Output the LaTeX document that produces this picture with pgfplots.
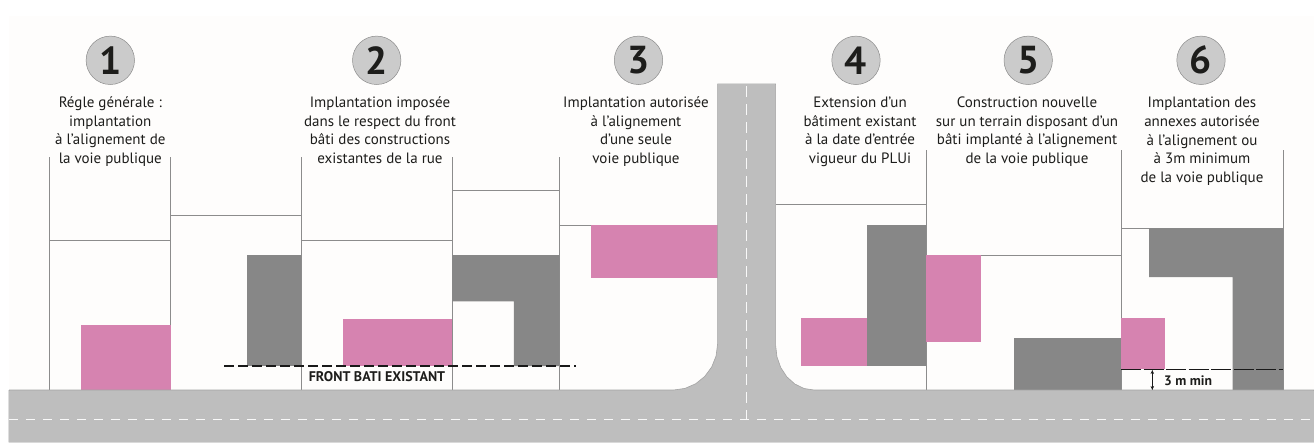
\documentclass[border=0pt]{standalone}
\usepackage{pgfplots}
\pgfplotsset{compat=1.18}
\usepackage{fontspec}
\setmainfont{PT Sans}
\usetikzlibrary{arrows.meta}
\definecolor{pinkc}{HTML}{D683B0}
\definecolor{grayc}{HTML}{878787}
\definecolor{roadc}{HTML}{BEBEBE}
\definecolor{linec}{HTML}{8C8C8C}
\definecolor{bandc}{HTML}{FEFDFC}
\definecolor{circc}{HTML}{CBCBCB}
\definecolor{txt}{HTML}{1D1D1B}
\tikzset{
  parcelline/.style={draw=linec,line width=0.7pt},
  numtxt/.style={font=\fontsize{39}{39}\selectfont\bfseries,text=txt},
  captxt/.style={anchor=north,align=center,inner sep=0pt,text=txt,font=\fontsize{15}{18.7}\selectfont},
}
\begin{document}
\begin{tikzpicture}
\begin{axis}[
  width=1314pt,height=442pt,scale only axis,
  xmin=0,xmax=1314,ymin=0,ymax=442,y dir=reverse,
  hide axis,clip=true,
  after end axis/.code={
    \node[numtxt] at (axis cs:110.3,60.3) {1};
    \node[numtxt] at (axis cs:376.7,60.3) {2};
    \node[numtxt] at (axis cs:638.5,60.3) {3};
    \node[numtxt] at (axis cs:856,60.3) {4};
    \node[numtxt] at (axis cs:1028.2,60.3) {5};
    \node[numtxt] at (axis cs:1201,60.3) {6};
  },
]
% page
\addplot[fill=white,draw=none] coordinates {(0,0)(1314,0)(1314,442)(0,442)};
\addplot[fill=bandc,draw=none] coordinates {(9,16)(1314,16)(1314,392)(9,392)};
% vertical parcel lines
\addplot[parcelline] coordinates {(49.2,157)(49.2,390)};
\addplot[parcelline] coordinates {(170.5,157)(170.5,390)};
\addplot[parcelline] coordinates {(301.4,157)(301.4,390)};
\addplot[parcelline] coordinates {(452,157)(452,390)};
\addplot[parcelline] coordinates {(559.3,157)(559.3,390)};
\addplot[parcelline] coordinates {(926.3,150)(926.3,390)};
\addplot[parcelline] coordinates {(1121.2,150)(1121.2,390)};
\addplot[parcelline] coordinates {(1283.2,150)(1283.2,390)};
% horizontal lines
\addplot[parcelline] coordinates {(49.2,240)(170.5,240)};
\addplot[parcelline] coordinates {(170.5,215)(301.4,215)};
\addplot[parcelline] coordinates {(301.4,240)(452,240)};
\addplot[parcelline] coordinates {(452,190)(559.3,190)};
\addplot[parcelline] coordinates {(559.3,225)(717.6,225)};
\addplot[parcelline] coordinates {(775.6,204)(926.3,204)};
\addplot[parcelline] coordinates {(926.3,255.3)(1121.2,255.3)};
\addplot[parcelline] coordinates {(1121.2,228.3)(1283.2,228.3)};
% pink
\addplot[fill=pinkc,draw=none] coordinates {(80.8,325.3)(170.5,325.3)(170.5,390)(80.8,390)};
\addplot[fill=pinkc,draw=none] coordinates {(343.4,319.3)(452,319.3)(452,366)(343.4,366)};
\addplot[fill=pinkc,draw=none] coordinates {(591.3,225)(717.6,225)(717.6,278.3)(591.3,278.3)};
\addplot[fill=pinkc,draw=none] coordinates {(800.9,317.7)(866.5,317.7)(866.5,366)(800.9,366)};
\addplot[fill=pinkc,draw=none] coordinates {(926.3,255.3)(981.4,255.3)(981.4,341.7)(926.3,341.7)};
\addplot[fill=pinkc,draw=none] coordinates {(1121.2,317.7)(1164.5,317.7)(1164.5,369.3)(1121.2,369.3)};
% gray
\addplot[fill=grayc,draw=none] coordinates {(246.6,255)(301.4,255)(301.4,366)(246.6,366)};
\addplot[fill=grayc,draw=none] coordinates {(452,255)(559.3,255)(559.3,366)(513.9,366)(513.9,301.3)(452,301.3)};
\addplot[fill=grayc,draw=none] coordinates {(866.5,225)(926.3,225)(926.3,366)(866.5,366)};
\addplot[fill=grayc,draw=none] coordinates {(1014.3,338.3)(1121.2,338.3)(1121.2,390)(1014.3,390)};
\addplot[fill=grayc,draw=none] coordinates {(1149,228.3)(1283.2,228.3)(1283.2,390)(1232.7,390)(1232.7,277)(1149,277)};
% road
\addplot[fill=roadc,draw=linec!80,line width=0.6pt] coordinates {
 (9,390)(673.6,390)(685,388.4)(695.6,383.8)(704.7,376.5)(711.7,367)(716.1,355.9)(717.6,344)
 (717.6,84)(775.6,84)
 (775.6,345)(776.9,356.6)(780.7,367.5)(786.8,376.8)(794.8,384)(804.1,388.5)(814,390)
 (1314,390)(1314,442)(9,442)(9,390)};
\addplot[fill=roadc,draw=none] coordinates {(718,84)(775.2,84)(775.2,90)(718,90)};
\addplot[fill=roadc,draw=none] coordinates {(9,391)(1314,391)(1314,442)(9,442)};
\addplot[white!90!roadc,line width=0.7pt,dash pattern=on 9pt off 8pt] coordinates {(9,419.3)(1314,419.3)};
\addplot[white!90!roadc,line width=0.7pt,dash pattern=on 11pt off 7pt] coordinates {(746.6,86)(746.6,419.3)};
% front bati
\addplot[black!90,line width=1.8pt,dash pattern=on 10pt off 4pt] coordinates {(224.3,366)(575.8,366)};
\node[text=txt,font=\fontsize{14}{14}\selectfont\bfseries] at (axis cs:377,376.5) {FRONT BATI EXISTANT};
% 3 m min
\addplot[black!90,line width=1.1pt,dash pattern=on 20pt off 2.5pt] coordinates {(1121.2,369.3)(1283.2,369.3)};
\addplot[black!90,line width=0.8pt,{Stealth[length=4pt,width=3.5pt]}-{Stealth[length=4pt,width=3.5pt]}] coordinates {(1152.3,370)(1152.3,390)};
\node[text=txt,font=\fontsize{13.7}{14}\selectfont\bfseries] at (axis cs:1188,380.5) {3 m min};
% number discs
\addplot[only marks,mark=*,mark size=24.2pt,mark options={fill=circc,draw=black!45,line width=0.5pt}] coordinates {(110.3,60.3)(376.7,60.3)(638.5,60.3)(856,60.3)(1028.2,60.3)(1201,60.3)};
% captions
\node[captxt] at (axis cs:110.3,96.5) {Régle générale :\\implantation\\à l’alignement de\\la voie publique};
\node[captxt] at (axis cs:380,96.5) {Implantation imposée\\dans le respect du front\\bâti des constructions\\existantes de la rue};
\node[captxt] at (axis cs:636,96.5) {Implantation autorisée\\à l’alignement\\d’une seule\\voie publique};
\node[captxt] at (axis cs:860,96.5) {Extension d’un\\bâtiment existant\\à la date d’entrée\\vigueur du PLUi};
\node[captxt] at (axis cs:1027,96.5) {Construction nouvelle\\sur un terrain disposant d’un\\bâti implanté à l’alignement\\de la voie publique};
\node[captxt] at (axis cs:1202,97) {Implantation des\\annexes autorisée\\à l’alignement ou\\à 3m minimum\\de la voie publique};
\end{axis}
\end{tikzpicture}
\end{document}
